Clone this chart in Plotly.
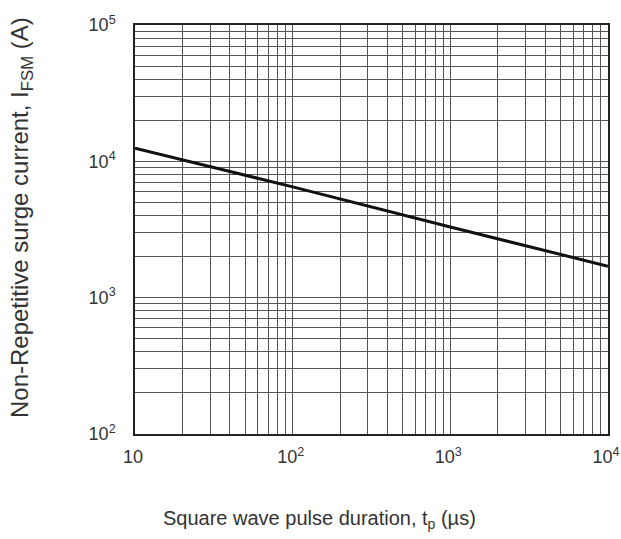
import plotly.graph_objects as go

# Data
pulse_us = [10, 100, 1000, 10000]
ifsm_a = [12500, 6500, 3300, 1700]

x_tickvals = [10, 100, 1000, 10000]
x_ticktext = ["10", "10<sup>2</sup>", "10<sup>3</sup>", "10<sup>4</sup>"]
y_tickvals = [100, 1000, 10000, 100000]
y_ticktext = ["10<sup>2</sup>", "10<sup>3</sup>", "10<sup>4</sup>", "10<sup>5</sup>"]

x_title = "Square wave pulse duration, t<sub>p</sub> (µs)"
y_title = "Non-Repetitive surge current, I<sub>FSM</sub> (A)"

x_minor = [m * d for d in [10, 100, 1000] for m in range(2, 10)]
y_minor = [m * d for d in [100, 1000, 10000] for m in range(2, 10)]

fig = go.Figure()
fig.add_trace(go.Scatter(x=pulse_us, y=ifsm_a, mode="lines",
                         line=dict(color="#111111", width=3), showlegend=False))

font = dict(family="Liberation Sans, Arial, sans-serif", color="#333333")
grid_color = "#555555"

fig.update_layout(
    width=621, height=539,
    margin=dict(l=135, r=13, t=25, b=105),
    paper_bgcolor="white", plot_bgcolor="white",
    font=dict(**font, size=18),
)
fig.update_xaxes(
    type="log", range=[1, 4], automargin=False,
    tickvals=x_tickvals, ticktext=x_ticktext,
    tickfont=dict(size=18),
    ticklabelstandoff=6, ticklabelshift=-2, ticklabeloverflow="allow",
    showgrid=True, gridcolor=grid_color, gridwidth=1,
    minor=dict(tickvals=x_minor, showgrid=True, gridcolor=grid_color, gridwidth=1),
    showline=True, linecolor="#222222", linewidth=1.5, mirror=True,
    zeroline=False,
)
fig.update_yaxes(
    type="log", range=[2, 5], automargin=False,
    tickvals=y_tickvals, ticktext=y_ticktext,
    tickfont=dict(size=18),
    ticklabelstandoff=14,
    showgrid=True, gridcolor=grid_color, gridwidth=1,
    minor=dict(tickvals=y_minor, showgrid=True, gridcolor=grid_color, gridwidth=1),
    showline=True, linecolor="#222222", linewidth=1.5, mirror=True,
    zeroline=False,
)

fig.add_annotation(text=x_title, xref="paper", yref="paper", x=0.391, y=0,
                   xanchor="center", yanchor="middle", yshift=-85,
                   showarrow=False, font=dict(size=20))
fig.add_annotation(text=y_title, xref="paper", yref="paper", x=0, y=0.528,
                   xanchor="center", yanchor="middle", xshift=-114, textangle=-90,
                   showarrow=False, font=dict(size=24))

fig.write_html(
    "out.html",
    config={"displayModeBar": False},
    post_script="document.body.style.margin='0';document.body.style.overflow='hidden';",
)
